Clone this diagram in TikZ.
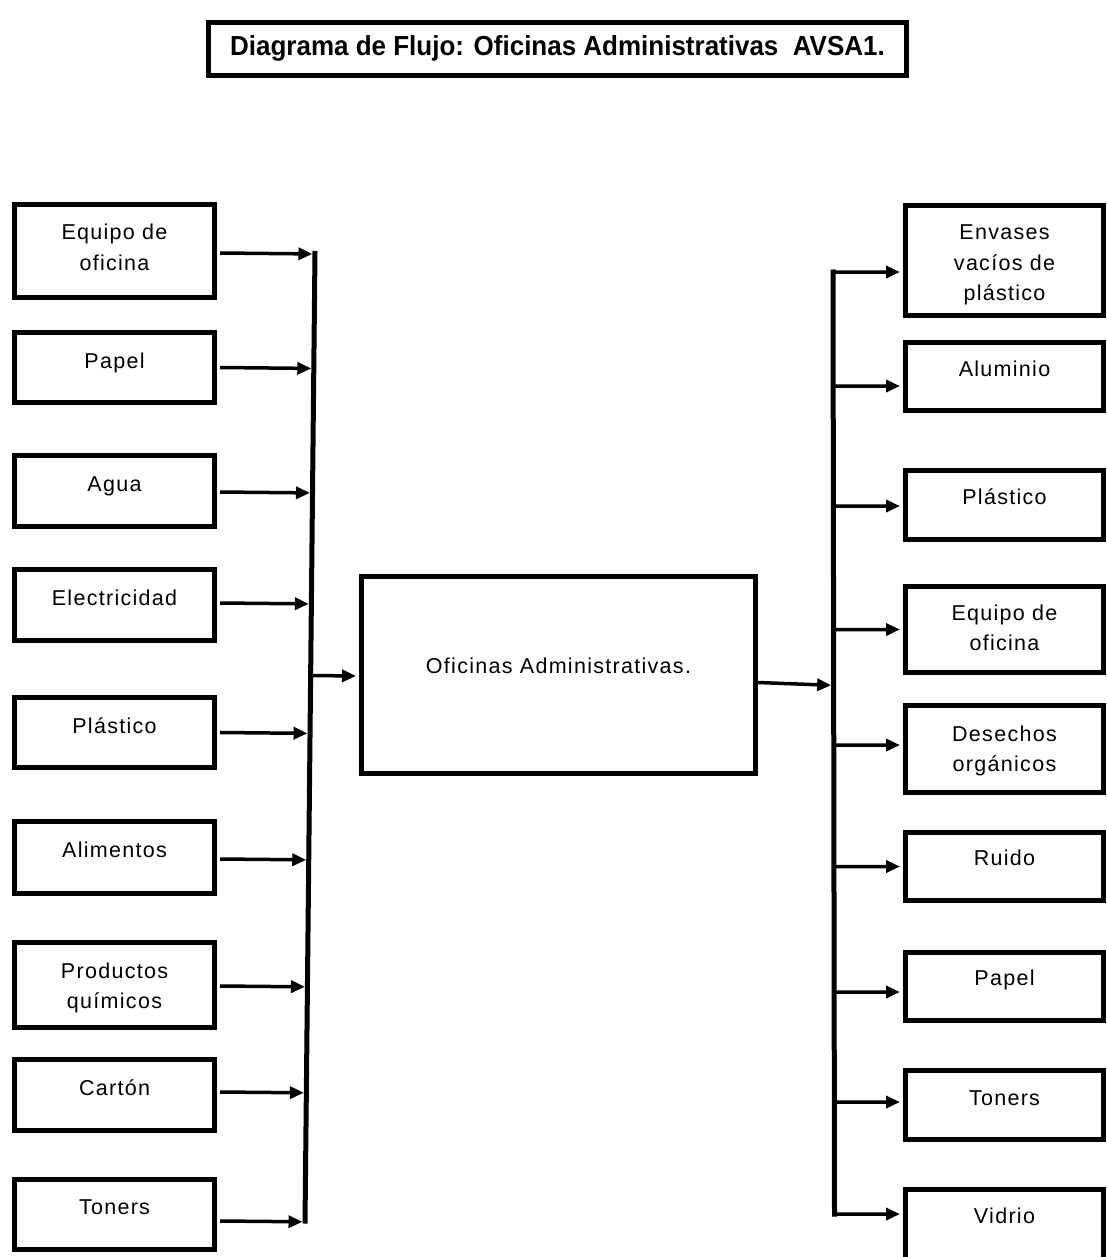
\documentclass[tikz,border=0pt]{standalone}
\usepackage{fontspec}
\usepackage{graphicx}
\newfontfamily\bodyfont{Liberation Sans}[LetterSpace=6]
\newfontfamily\headfont{Liberation Sans}
\usetikzlibrary{arrows.meta,calc}

\tikzset{
  flowbox/.style={draw, line width=5pt, inner sep=0pt, outer sep=5.5pt,
    font=\bodyfont\fontsize{21.5}{30.5}\selectfont},
  headbox/.style={flowbox, line width=4.5pt},
  flow/.style={line width=3.5pt, -{Triangle[length=14pt,width=12pt]}},
  bus/.style={line width=5pt},
}

% #1 name, #2 style, #3 x1, #4 y1, #5 x2, #6 y2 (outer edges),
% #7 first baseline below the top edge, #8 text
\newcommand\placebox[8]{%
  \pgfmathsetmacro\pbw{#5-#3-5}%
  \pgfmathsetmacro\pbh{#6-#4-5}%
  \pgfmathsetmacro\pbb{#7-2.5}%
  \node[#2] (#1) at ({(#3+#5)/2},{(#4+#6)/2})
    {\begin{minipage}[t][\pbh pt][t]{\pbw pt}\centering\rule{0pt}{\pbb pt}#8\end{minipage}};}

\begin{document}
\begin{tikzpicture}[x=1pt,y=-1pt]
\useasboundingbox (0,0) rectangle (1107,1257);
\fill[white] (0,0) rectangle (1107,1257);

% title
\placebox{title}{headbox}{206}{20}{909}{78}{36}{\headfont\bfseries\fontsize{27.5}{27.5}\selectfont\scalebox{0.945}[1]{Diagrama de Flujo: Oficinas Administrativas\ \ AVSA1.}}

% inputs
\placebox{i1}{flowbox}{12}{202}{217}{300}{38}{Equipo de\\oficina}
\placebox{i2}{flowbox}{12}{330}{217}{405}{38}{Papel}
\placebox{i3}{flowbox}{12}{453}{217}{529}{38}{Agua}
\placebox{i4}{flowbox}{12}{567}{217}{643}{38}{Electricidad}
\placebox{i5}{flowbox}{12}{695}{217}{770}{38}{Plástico}
\placebox{i6}{flowbox}{12}{819}{217}{896}{38}{Alimentos}
\placebox{i7}{flowbox}{12}{940}{217}{1030}{38}{Productos\\químicos}
\placebox{i8}{flowbox}{12}{1057}{217}{1133}{38}{Cartón}
\placebox{i9}{flowbox}{12}{1177}{217}{1252}{37}{Toners}

% process
\placebox{c}{flowbox}{359}{574}{758}{776}{99}{Oficinas Administrativas.}

% outputs
\placebox{o1}{flowbox}{903}{203}{1106}{318}{37}{Envases\\vacíos de\\plástico}
\placebox{o2}{flowbox}{903}{340}{1106}{413}{36}{Aluminio}
\placebox{o3}{flowbox}{903}{468}{1106}{542}{36}{Plástico}
\placebox{o4}{flowbox}{903}{584}{1106}{675}{36}{Equipo de\\oficina}
\placebox{o5}{flowbox}{903}{703}{1106}{795}{38}{Desechos\\orgánicos}
\placebox{o6}{flowbox}{903}{830}{1106}{903}{35}{Ruido}
\placebox{o7}{flowbox}{903}{950}{1106}{1023}{35}{Papel}
\placebox{o8}{flowbox}{903}{1068}{1106}{1142}{37}{Toners}
\placebox{o9}{flowbox}{903}{1187}{1106}{1262}{36}{Vidrio}

% input collector
\coordinate (lbt) at (315,251);
\coordinate (lbb) at (305,1223.5);
\draw[bus] (lbt) -- (lbb);
\foreach \n/\d in {i1/-2,i2/0,i3/-1,i4/2,i5/0,i6/-1.5,i7/-1,i8/3,i9/-6.5}{
  \path ([yshift=\d pt]\n.east) coordinate (\n-out);
  \draw[flow, shorten >=2.5pt] (\n-out) -- ($(lbt)!(\n-out)!(lbb)$);
}

% output distributor
\coordinate (rbt) at (833,269.5);
\coordinate (rbb) at (834.5,1216.5);
\draw[bus] (rbt) -- (rbb);
\foreach \n/\d in {o1/-11.5,o2/-9.5,o3/-1,o4/0,o5/4,o6/0,o7/-5.5,o8/3,o9/10.5}{
  \path ([yshift=\d pt]\n.west) coordinate (\n-in);
  \draw[flow] ($(rbt)!(\n-in)!(rbb)$) -- (\n-in);
}

% into and out of the process
\path ([yshift=-1pt]c.west) coordinate (c-in);
\draw[flow] ($(lbt)!(c-in)!(lbb)$) -- (c-in);
\path ([xshift=-3pt,yshift=-7.5pt]c.east) coordinate (c-out);
\path ([yshift=-10.5pt]c.east) coordinate (c-aim);
\draw[flow, shorten >=2.5pt] (c-out) -- ($(rbt)!(c-aim)!(rbb)$);
\end{tikzpicture}
\end{document}
